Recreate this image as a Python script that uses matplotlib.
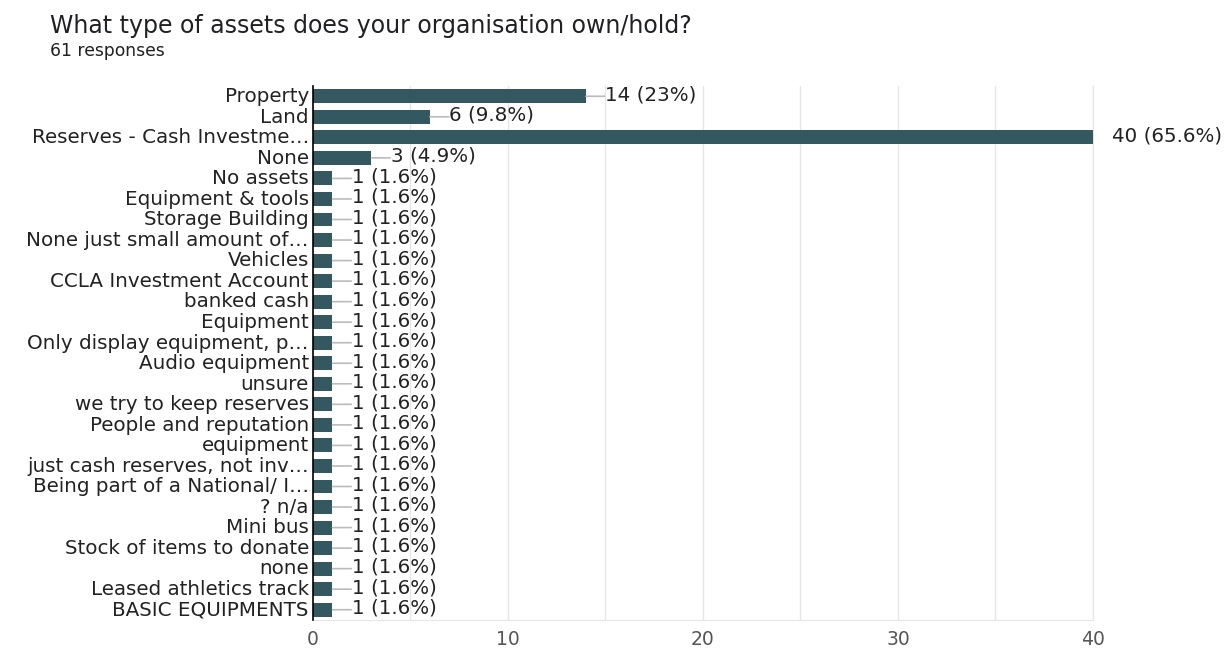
import numpy as np
import matplotlib.pyplot as plt
import matplotlib.transforms as mtransforms

# Data
labels = ["Property", "Land", "Reserves - Cash Investme\u2026", "None", "No assets",
          "Equipment & tools", "Storage Building", "None just small amount of\u2026",
          "Vehicles", "CCLA Investment Account", "banked cash", "Equipment",
          "Only display equipment, p\u2026", "Audio equipment", "unsure",
          "we try to keep reserves", "People and reputation", "equipment",
          "just cash reserves, not inv\u2026", "Being part of a National/ I\u2026",
          "? n/a", "Mini bus", "Stock of items to donate", "none",
          "Leased athletics track", "BASIC EQUIPMENTS"]
counts = [14, 6, 40, 3, 1, 1, 1, 1, 1, 1, 1, 1, 1, 1, 1, 1, 1, 1, 1, 1, 1, 1, 1, 1, 1, 1]
n_responses = 61
xticks = [0, 10, 20, 30, 40]

plt.rcParams['font.family'] = ['DejaVu Sans']

bar_col = '#345860'
grid_col = '#e6e6e6'
fs = 14.3

fig = plt.figure(figsize=(12.25, 6.49), dpi=100)
ax = fig.add_axes([0.2555, 0.0447, 0.8922 - 0.2555, 0.8675 - 0.0447])

y = np.arange(len(labels))
ax.barh(y, counts, height=0.68, color=bar_col, zorder=3)

ax.set_ylim(len(labels) - 0.5, -0.5)
ax.set_xlim(0, 40)
ax.set_yticks(y)
ax.set_yticklabels(labels, fontsize=fs, color='#222222')
ax.set_xticks(xticks)
ax.set_xticklabels([str(t) for t in xticks], fontsize=13.5, color='#555555')
ax.tick_params(axis='both', length=0)
ax.tick_params(axis='y', pad=3)
ax.tick_params(axis='x', pad=7)

# nudge y labels up a little so they sit centred on the bars
up = mtransforms.ScaledTranslation(0, 1.2 / 72, fig.dpi_scale_trans)
for lbl in ax.get_yticklabels():
    lbl.set_transform(lbl.get_transform() + up)

# grid lines every 5
for gx in np.arange(5, 41, 5):
    ax.axvline(gx, color=grid_col, lw=1, zorder=1)

for side in ['top', 'right', 'bottom']:
    ax.spines[side].set_color(grid_col)
ax.spines['top'].set_visible(False)
ax.spines['left'].set_color('black')
ax.spines['left'].set_linewidth(1.2)
ax.spines['left'].set_zorder(5)

# value labels with connector lines
for yi, c in zip(y, counts):
    pct = c / n_responses * 100
    ptxt = f"{pct:.1f}".rstrip('0').rstrip('.')
    txt = f"{c} ({ptxt}%)"
    if c == max(counts):
        ax.annotate(txt, xy=(c, yi), xytext=(14, 1.2), textcoords='offset points',
                    va='center', ha='left', fontsize=fs, color='#222222',
                    annotation_clip=False)
    else:
        ax.annotate("", xy=(c, yi), xytext=(13.5, 0), textcoords='offset points',
                    arrowprops=dict(arrowstyle='-', color='#bbbbbb', lw=1.2,
                                    shrinkA=0, shrinkB=0))
        ax.annotate(txt, xy=(c, yi), xytext=(14, 1.2), textcoords='offset points',
                    va='center', ha='left', fontsize=fs, color='#222222')

fig.text(50 / 1225, 1 - 26 / 649, "What type of assets does your organisation own/hold?",
         fontsize=17, color='#202124', va='center', ha='left')
fig.text(50 / 1225, 1 - 51 / 649, "61 responses", fontsize=12.3, color='#202124',
         va='center', ha='left')

fig.savefig('out.png', dpi=100)
